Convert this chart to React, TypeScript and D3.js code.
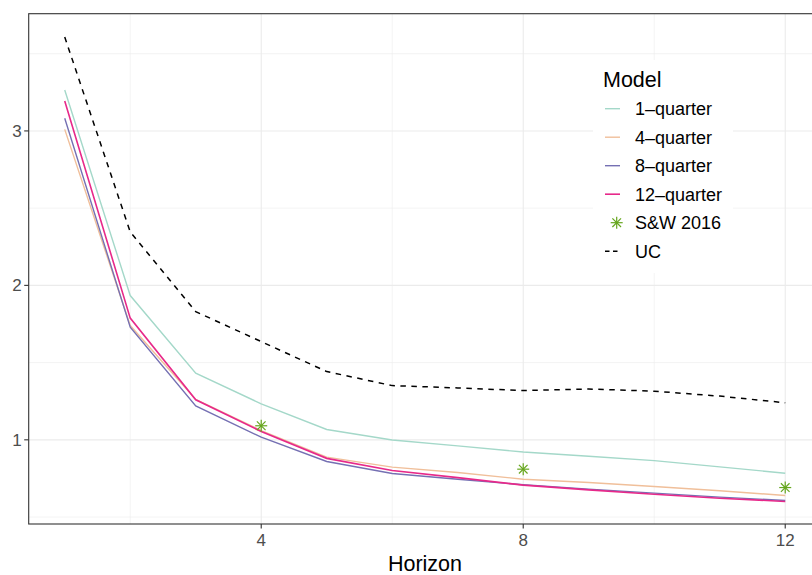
import React from "react";
import * as d3 from "d3";

const horizons = [1, 2, 3, 4, 5, 6, 7, 8, 9, 10, 11, 12];
const q1 = [3.265, 1.934, 1.432, 1.233, 1.067, 0.999, 0.961, 0.921, 0.894, 0.865, 0.825, 0.784];
const q4 = [3.01, 1.74, 1.262, 1.06, 0.888, 0.823, 0.788, 0.745, 0.724, 0.698, 0.67, 0.64];
const q8 = [3.082, 1.729, 1.22, 1.017, 0.86, 0.782, 0.745, 0.709, 0.681, 0.655, 0.629, 0.607];
const q12 = [3.194, 1.788, 1.259, 1.054, 0.88, 0.801, 0.755, 0.707, 0.676, 0.648, 0.622, 0.601];
const uc = [3.608, 2.346, 1.83, 1.636, 1.442, 1.351, 1.336, 1.319, 1.329, 1.315, 1.283, 1.24];
const swH = [4, 8, 12];
const swV = [1.091, 0.81, 0.691];

const seriesNames = ["1–quarter", "4–quarter", "8–quarter", "12–quarter"];
const seriesColors = ["#a4d8c9", "#f0bf9a", "#7570B3", "#E7298A"];
const seriesValues = [q1, q4, q8, q12];

const xTicks = [4, 8, 12];
const xMinor = [2, 6, 10];
const yTicks = [1, 2, 3];
const yMinor = [0.5, 1.5, 2.5, 3.5];

const FONT = "'Liberation Sans', Arial, Helvetica, sans-serif";

export default function App() {
  const W = 812, H = 575;
  const left = 28.7, top = 13.7, bottom = 524;
  const x = d3.scaleLinear().domain([0.45, 12.55]).range([left, left + 12.1 * 65.5]);
  const y = d3.scaleLinear().domain([0.455, 3.759]).range([bottom, top]);
  const right = x(12.55);

  const line = d3.line<number>().x((_, i) => x(horizons[i])).y((v) => y(v));

  const legendX = 593, legendY = 60;
  const rowY = (i: number) => 108.7 + i * 28.5;

  const star = (cx: number, cy: number, r: number, key: string) => {
    const d = r * 0.72;
    return (
      <g key={key} stroke="#66A61E" strokeWidth={1.2}>
        <line x1={cx - r} y1={cy} x2={cx + r} y2={cy} />
        <line x1={cx} y1={cy - r} x2={cx} y2={cy + r} />
        <line x1={cx - d} y1={cy - d} x2={cx + d} y2={cy + d} />
        <line x1={cx - d} y1={cy + d} x2={cx + d} y2={cy - d} />
      </g>
    );
  };

  return (
    <svg width={W} height={H} style={{ position: "absolute", left: 0, top: 0 }} fontFamily={FONT}>
      <rect x={0} y={0} width={W} height={H} fill="#ffffff" />
      <defs>
        <clipPath id="panel">
          <rect x={left} y={top} width={right - left} height={bottom - top} />
        </clipPath>
      </defs>
      {/* grid */}
      {yMinor.map((v) => (
        <line key={"ym" + v} x1={left} x2={right} y1={y(v)} y2={y(v)} stroke="#ebebeb" strokeWidth={0.6} />
      ))}
      {xMinor.map((v) => (
        <line key={"xm" + v} x1={x(v)} x2={x(v)} y1={top} y2={bottom} stroke="#ebebeb" strokeWidth={0.6} />
      ))}
      {yTicks.map((v) => (
        <line key={"yg" + v} x1={left} x2={right} y1={y(v)} y2={y(v)} stroke="#ebebeb" strokeWidth={1.1} />
      ))}
      {xTicks.map((v) => (
        <line key={"xg" + v} x1={x(v)} x2={x(v)} y1={top} y2={bottom} stroke="#ebebeb" strokeWidth={1.1} />
      ))}
      <g clipPath="url(#panel)">
        {seriesValues.map((vals, i) => (
          <path key={seriesNames[i]} d={line(vals) || ""} fill="none" stroke={seriesColors[i]} strokeWidth={i === 3 ? 1.6 : 1.4} />
        ))}
        <path d={line(uc) || ""} fill="none" stroke="#000" strokeWidth={1.5} strokeDasharray="5.5,5.5" />
        {swH.map((h, i) => star(x(h), y(swV[i]), 6, "s" + h))}
      </g>
      {/* panel border */}
      <rect x={left} y={top} width={right - left} height={bottom - top} fill="none" stroke="#333333" strokeWidth={1.1} />
      {/* axes ticks */}
      {xTicks.map((v) => (
        <g key={"xt" + v}>
          <line x1={x(v)} x2={x(v)} y1={bottom} y2={bottom + 4.5} stroke="#333333" strokeWidth={1.1} />
          <text x={x(v)} y={bottom + 22} textAnchor="middle" fontSize={17} fill="#4d4d4d">{v}</text>
        </g>
      ))}
      {yTicks.map((v) => (
        <g key={"yt" + v}>
          <line x1={left - 4.5} x2={left} y1={y(v)} y2={y(v)} stroke="#333333" strokeWidth={1.1} />
          <text x={left - 7} y={y(v)} dy="0.36em" textAnchor="end" fontSize={17} fill="#4d4d4d">{v}</text>
        </g>
      ))}
      <text x={(left + right) / 2} y={571} textAnchor="middle" fontSize={21.5} fill="#000">Horizon</text>
      {/* legend */}
      <rect x={legendX} y={legendY} width={140} height={213} fill="#ffffff" />
      <text x={603} y={87} fontSize={21.5} fill="#000">Model</text>
      {seriesNames.map((n, i) => (
        <g key={"lg" + n}>
          <line x1={605} x2={620} y1={rowY(i)} y2={rowY(i)} stroke={seriesColors[i]} strokeWidth={i === 3 ? 1.6 : 1.4} />
          <text x={635} y={rowY(i)} dy="0.36em" fontSize={18} fill="#000">{n}</text>
        </g>
      ))}
      {star(616.7, rowY(4), 6, "legstar")}
      <text x={635} y={rowY(4)} dy="0.36em" fontSize={18} fill="#000">S&amp;W 2016</text>
      <line x1={605} x2={620} y1={rowY(5)} y2={rowY(5)} stroke="#000" strokeWidth={1.5} strokeDasharray="4.5,3.5" />
      <text x={635} y={rowY(5)} dy="0.36em" fontSize={18} fill="#000">UC</text>
    </svg>
  );
}
